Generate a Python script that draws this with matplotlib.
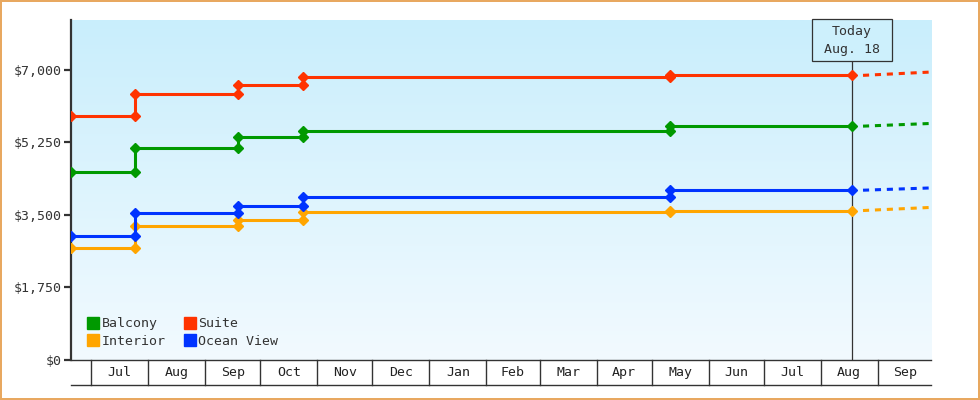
import numpy as np
import datetime
import matplotlib
matplotlib.use("Agg")
import matplotlib.pyplot as plt
import matplotlib.dates as mdates
import matplotlib.transforms as mtransforms
from matplotlib.patches import Rectangle
from matplotlib.lines import Line2D

plt.rcParams['font.family'] = ['DejaVu Sans Mono']

# price change dates (first entry = first observation)
change_dates = ["2023-06-20", "2023-07-25", "2023-09-19", "2023-10-24", "2024-05-11"]
today = "2024-08-18"
forecast_start = "2024-08-24"
forecast_end = "2024-09-30"

series_names = ["Balcony", "Suite", "Interior", "Ocean View"]
colors = ["#009900", "#ff3300", "#ffa500", "#0033ff"]
balcony = [4530, 5110, 5380, 5530, 5640]
suite = [5880, 6410, 6630, 6820, 6865]
interior = [2700, 3225, 3370, 3570, 3605]
ocean_view = [2985, 3550, 3715, 3935, 4095]
forecast = [5705, 6945, 3680, 4150]

months = ["Jul", "Aug", "Sep", "Oct", "Nov", "Dec", "Jan", "Feb", "Mar", "Apr",
          "May", "Jun", "Jul", "Aug", "Sep"]
month_starts = ["2023-07-01", "2023-08-01", "2023-09-01", "2023-10-01", "2023-11-01",
                "2023-12-01", "2024-01-01", "2024-02-01", "2024-03-01", "2024-04-01",
                "2024-05-01", "2024-06-01", "2024-07-01", "2024-08-01", "2024-09-01",
                "2024-10-01"]
yticks = [0, 1750, 3500, 5250, 7000]


def d(s):
    return datetime.datetime.strptime(s, "%Y-%m-%d")


fig = plt.figure(figsize=(9.8, 4), dpi=100)
fig.patch.set_facecolor("white")
fig.patch.set_edgecolor("#e8a860")
fig.patch.set_linewidth(1.5)

ax = fig.add_axes([71 / 980, 40 / 400, 860 / 980, 340 / 400])
ax.set_xlim(d("2023-06-20"), d("2024-09-30"))
ax.set_ylim(0, 8200)

# background gradient
grad = np.linspace(0, 1, 256).reshape(-1, 1)
top = np.array([0xc9, 0xee, 0xfc]) / 255
bot = np.array([0xf2, 0xfa, 0xff]) / 255
img = top[None, None, :] * (1 - grad[:, :, None]) + bot[None, None, :] * grad[:, :, None]
ax.imshow(img, extent=[0, 1, 0, 1], transform=ax.transAxes, aspect="auto", zorder=0)

all_vals = [balcony, suite, interior, ocean_view]
for vals, c, fc in zip(all_vals, colors, forecast):
    xs = [d(change_dates[0])]
    ys = [vals[0]]
    for i in range(1, len(change_dates)):
        xs += [d(change_dates[i]), d(change_dates[i])]
        ys += [vals[i - 1], vals[i]]
    xs.append(d(today))
    ys.append(vals[-1])
    ax.plot(xs, ys, color=c, lw=2.2, marker="D", markersize=5.2, zorder=3)
    ax.plot([d(forecast_start), d(forecast_end)], [vals[-1], fc], color=c, lw=2.2,
            dashes=(2.0, 1.9), zorder=3)

# today marker
blend = mtransforms.blended_transform_factory(ax.transData, ax.transAxes)
tnum = mdates.date2num(d(today))
box_bottom = (360 - 61) / 340
ax.plot([tnum, tnum], [0, box_bottom], color="#333333", lw=0.9, transform=blend, zorder=2)
ax.add_patch(Rectangle((tnum - 21.75, box_bottom), 43.5, 1 - box_bottom + 0.003, transform=blend,
                       facecolor="#cdf0fc", edgecolor="#333333", lw=0.9, zorder=4, clip_on=False))
ax.text(tnum, (360 - 32) / 340, "Today", transform=blend, ha="center", va="center",
        fontsize=9.5, color="#333333", zorder=5)
ax.text(tnum, (360 - 50) / 340, "Aug. 18", transform=blend, ha="center", va="center",
        fontsize=9.5, color="#333333", zorder=5)

# axes styling
for s in ["top", "right"]:
    ax.spines[s].set_visible(False)
ax.spines["left"].set_linewidth(1.6)
ax.spines["left"].set_color("#333333")
ax.spines["bottom"].set_linewidth(1.0)
ax.spines["bottom"].set_color("#333333")
ax.set_xticks([])
ax.set_yticks(yticks)
ax.set_yticklabels(["${:,.0f}".format(v) for v in yticks])
ax.tick_params(axis="y", length=5, width=1.6, color="#333333", labelsize=9.5,
               labelcolor="#333333", pad=2)

# month band under the axis
band = -25 / 340
ax.plot([ax.get_xlim()[0], ax.get_xlim()[1]], [band, band], color="#333333", lw=1.0,
        transform=blend, clip_on=False)
for ms in month_starts[:-1]:
    ax.plot([d(ms), d(ms)], [0, band], color="#333333", lw=1.0, transform=blend, clip_on=False)
for i, m in enumerate(months):
    mid = d(month_starts[i]) + (d(month_starts[i + 1]) - d(month_starts[i])) / 2
    ax.text(mid, band / 2, m, transform=blend, ha="center", va="center", fontsize=9.5,
            color="#222222")

# legend filled column-wise: order so rows read Balcony, Suite / Interior, Ocean View
order = [0, 2, 1, 3]
handles = [Line2D([], [], marker="s", linestyle="none", color=colors[k], markersize=8)
           for k in order]
ax.legend(handles, [series_names[k] for k in order], ncol=2, loc="lower left",
          bbox_to_anchor=(0.02, 0.035), frameon=False, fontsize=9.5, handlelength=0.8,
          handletextpad=0.2, columnspacing=1.45, labelspacing=0.35, borderpad=0,
          borderaxespad=0, labelcolor="#333333")

fig.savefig("out.png", dpi=100)
